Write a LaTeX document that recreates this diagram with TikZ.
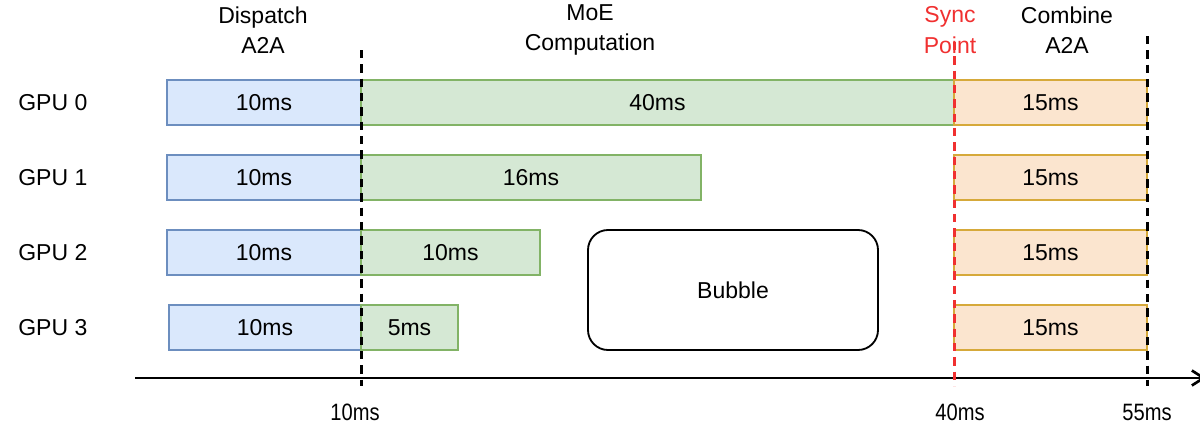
\documentclass[tikz,border=0pt]{standalone}
\usepackage{fontspec}
\setmainfont{Liberation Sans}
\usetikzlibrary{arrows.meta}
\definecolor{bfill}{HTML}{DAE8FC}
\definecolor{bdraw}{HTML}{6C8EBF}
\definecolor{gfill}{HTML}{D5E8D4}
\definecolor{gdraw}{HTML}{82B366}
\definecolor{ofill}{HTML}{FBE5CF}
\definecolor{odraw}{HTML}{D6A93A}
\definecolor{syncred}{HTML}{F03030}
\tikzset{
  txt/.style={font=\fontsize{13.8}{15.6}\selectfont, inner sep=0pt, align=center},
  bbar/.style={draw=bdraw, fill=bfill, line width=0.9pt},
  gbar/.style={draw=gdraw, fill=gfill, line width=0.9pt},
  obar/.style={draw=odraw, fill=ofill, line width=0.9pt},
  vdash/.style={line width=1.8pt, dash pattern=on 5pt off 3.6pt},
  axislbl/.style={font=\fontsize{14.2}{16}\selectfont, inner sep=0pt, xscale=0.85}
}
\begin{document}
\begin{tikzpicture}[x=0.6pt, y=-0.6pt]
\useasboundingbox (0,0) rectangle (1200,425);
% rows
\foreach \r/\y/\gx/\gl/\bx in {0/80/954/40ms/167, 1/155/701/16ms/167, 2/230/540/10ms/167, 3/305/458/5ms/169}{
  \node[txt, anchor=west] (gpu\r) at (18,\y+22.5) {GPU \r};
  \draw[bbar] (\bx,\y) rectangle (361,\y+45);
  \node[txt] (d\r) at ({(\bx+361)/2},\y+22.5) {10ms};
  \draw[gbar] (361,\y) rectangle (\gx,\y+45);
  \node[txt] (m\r) at ({(361+\gx)/2},\y+22.5) {\gl};
  \draw[obar] (954,\y) rectangle (1147,\y+45);
  \node[txt] (c\r) at (1050.5,\y+22.5) {15ms};
}
% bubble
\draw[line width=1.1pt, rounded corners=12pt] (588,230) rectangle (878,350);
\node[txt] (bubble) at (733,290) {Bubble};
% headers
\node[txt] (hd) at (263,30) {Dispatch\\[2.5pt]A2A};
\node[txt] (hm) at (590,30) {MoE\\[2.5pt]Computation};
\node[txt, text=syncred] (hs) at (950,30) {Sync\\[2.5pt]Point};
\node[txt] (hc) at (1067,30) {Combine\\[2.5pt]A2A};
% axis
\coordinate (a0) at (135,378);
\coordinate (a1) at (1206,378);
\draw[line width=1.6pt, -{Straight Barb[length=7pt, width=9pt]}] (a0) -- (a1);
% dashed lines
\draw[vdash] (361,50) -- (361,386);
\draw[vdash, syncred] (954,42) -- (954,386);
\draw[vdash] (1147,36) -- (1147,386);
% axis labels
\node[axislbl] (t10) at (355,412) {10ms};
\node[axislbl] (t40) at (960,412) {40ms};
\node[axislbl] (t55) at (1147,412) {55ms};
\end{tikzpicture}
\end{document}
